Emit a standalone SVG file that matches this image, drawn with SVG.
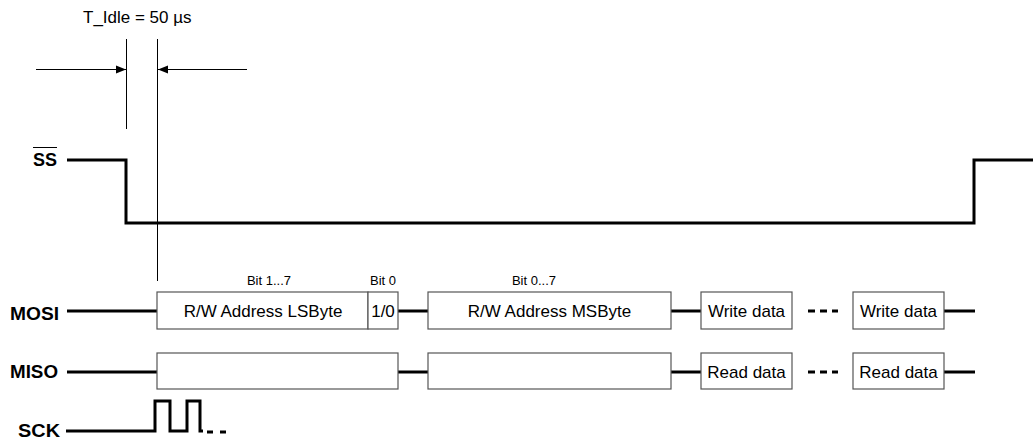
<svg xmlns="http://www.w3.org/2000/svg" width="1033" height="443" viewBox="0 0 1033 443">
<style>
text{font-family:"Liberation Sans",Arial,sans-serif;fill:#000}
.lbl{font-weight:bold;font-size:17.5px}
.box{fill:#fff;stroke:#555;stroke-width:1.2}
.bt{font-size:17px;text-anchor:middle}
.bit{font-size:13px;text-anchor:middle}
.sig{fill:none;stroke:#000;stroke-width:3}
.thin{fill:none;stroke:#000;stroke-width:1}
</style>
<defs>
<marker id="ah" viewBox="0 0 10 10" refX="10" refY="5" markerWidth="10" markerHeight="10" markerUnits="userSpaceOnUse" orient="auto">
<path d="M0,1 L10,5 L0,9 Z" fill="#000"/>
</marker>
</defs>
<rect width="1033" height="443" fill="#fff"/>
<g id="timing">
<text x="83" y="23" style="font-size:17px">T_Idle = 50 µs</text>
<line class="thin" x1="126.5" y1="39" x2="126.5" y2="129"/>
<line class="thin" x1="157.5" y1="39" x2="157.5" y2="281"/>
</g>
<g id="labels">
<text class="lbl" x="33" y="166" textLength="24" lengthAdjust="spacingAndGlyphs">SS</text>
<line x1="33" y1="147.5" x2="57" y2="147.5" stroke="#000" stroke-width="1"/>
<text class="lbl" x="10" y="320" textLength="49" lengthAdjust="spacingAndGlyphs">MOSI</text>
<text class="lbl" x="10" y="378" textLength="48" lengthAdjust="spacingAndGlyphs">MISO</text>
<text class="lbl" x="18" y="437" textLength="42" lengthAdjust="spacingAndGlyphs">SCK</text>
</g>
<g id="connectors">
<line class="thin" x1="36" y1="69.5" x2="126" y2="69.5" marker-end="url(#ah)"/>
<line class="thin" x1="247" y1="69.5" x2="158" y2="69.5" marker-end="url(#ah)"/>
<polyline class="sig" points="67,160 126,160 126,223 974,223 974,160 1033,160"/>
<line class="sig" x1="67" y1="311" x2="157" y2="311"/>
<line class="sig" x1="398" y1="311" x2="428" y2="311"/>
<line class="sig" x1="671" y1="311" x2="701" y2="311"/>
<line class="sig" x1="808" y1="311" x2="838" y2="311" stroke-dasharray="7 5"/>
<line class="sig" x1="944" y1="311" x2="975" y2="311"/>
<line class="sig" x1="67" y1="372" x2="157" y2="372"/>
<line class="sig" x1="398" y1="372" x2="428" y2="372"/>
<line class="sig" x1="671" y1="372" x2="701" y2="372"/>
<line class="sig" x1="808" y1="372" x2="838" y2="372" stroke-dasharray="7 5"/>
<line class="sig" x1="944" y1="372" x2="975" y2="372"/>
<polyline class="sig" points="66,431 155,431 155,401 170,401 170,431 187,431 187,401 200,401 200,431 203,431"/>
<line class="sig" x1="207" y1="432" x2="230" y2="432" stroke-dasharray="6 7"/>
</g>
<g id="mosi-lsbyte">
<rect class="box" x="157" y="292" width="211" height="37"/>
<text class="bt" x="263" y="317">R/W Address LSByte</text>
<text class="bit" x="269" y="285">Bit 1...7</text>
</g>
<g id="mosi-bit0">
<rect class="box" x="368" y="292" width="30" height="37"/>
<text class="bt" x="383" y="317">1/0</text>
<text class="bit" x="383" y="285">Bit 0</text>
</g>
<g id="mosi-msbyte">
<rect class="box" x="428" y="292" width="243" height="37"/>
<text class="bt" x="549.5" y="317">R/W Address MSByte</text>
<text class="bit" x="534" y="285">Bit 0...7</text>
</g>
<g id="mosi-write1">
<rect class="box" x="701" y="292" width="91" height="37"/>
<text class="bt" x="746.5" y="317">Write data</text>
</g>
<g id="mosi-write2">
<rect class="box" x="853" y="292" width="91" height="37"/>
<text class="bt" x="898.5" y="317">Write data</text>
</g>
<g id="miso-1">
<rect class="box" x="157" y="353" width="241" height="36"/>
</g>
<g id="miso-2">
<rect class="box" x="428" y="353" width="243" height="36"/>
</g>
<g id="miso-read1">
<rect class="box" x="701" y="353" width="91" height="36"/>
<text class="bt" x="746.5" y="378">Read data</text>
</g>
<g id="miso-read2">
<rect class="box" x="853" y="353" width="91" height="36"/>
<text class="bt" x="898.5" y="378">Read data</text>
</g>
</svg>
